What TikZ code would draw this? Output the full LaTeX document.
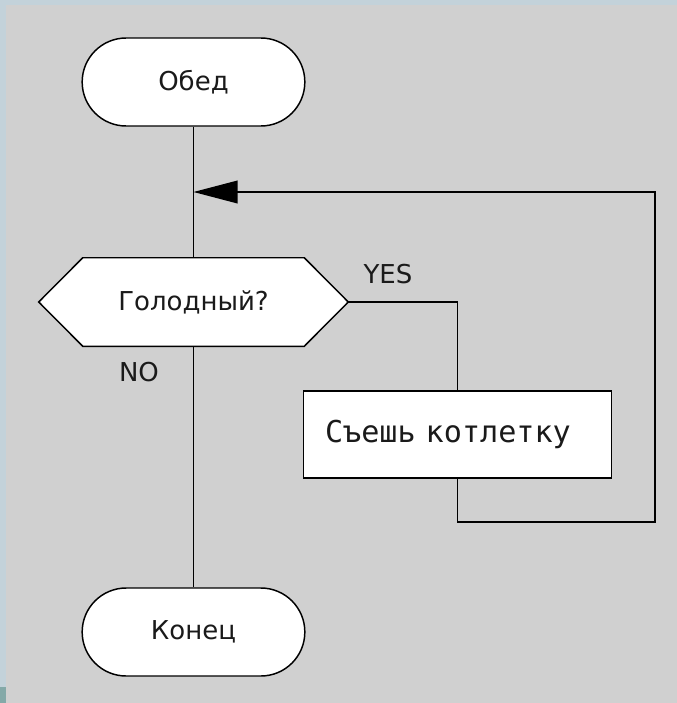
\documentclass[tikz,border=0pt]{standalone}
\usepackage{fontspec}
\setmainfont{DejaVu Sans}
\setmonofont{DejaVu Sans Mono}
\usetikzlibrary{arrows.meta}

\definecolor{pagegray}{HTML}{D0D0D0}
\definecolor{edgeblue}{HTML}{C3D2DA}
\definecolor{edgeteal}{HTML}{84A9A8}
\definecolor{inkgray}{HTML}{1A1A1A}

\begin{document}
\begin{tikzpicture}[x=0.75pt,y=0.75pt,yscale=-1,xscale=1,
  every node/.style={text=inkgray,font=\fontsize{19.5}{23}\selectfont},
  term/.style={draw,fill=white,line width=1.1pt,rounded corners=33pt,minimum width=167pt,minimum height=66pt,inner sep=0pt},
  hexcore/.style={minimum width=165.75pt,minimum height=66pt,inner sep=0pt},
  act/.style={draw,fill=white,line width=1.1pt,rectangle,text width=198.75pt,align=left,inner xsep=16pt,minimum height=65pt,font=\ttfamily\fontsize{22.6}{26}\selectfont},
  flow/.style={line width=1.05pt},
  tag/.style={inner sep=0.75pt}]
\useasboundingbox (0,0) rectangle (677,703);

%Background
\fill[pagegray] (0,0) rectangle (677,703);
\fill[edgeblue] (0,0) rectangle (677,5);
\fill[edgeblue] (0,0) rectangle (6,687);
\fill[edgeteal] (0,687) rectangle (6,703);

%Shapes
\node[term] (start) at (193.5,82) {Обед};
\node[hexcore] (ask) at (193.5,302) {};
\filldraw[fill=white,line width=1.1pt] (ask.north west) -- (ask.north east) -- ([xshift=33pt]ask.east) -- (ask.south east) -- (ask.south west) -- ([xshift=-33pt]ask.west) -- cycle;
\node (asktxt) at (ask.center) {Голодный?};
\node[act] (eat) at (457.5,434.5) {Съешь котлетку};
\node[term] (stop) at (193.5,632) {Конец};

\coordinate (askr) at ([xshift=33pt]ask.east);
\coordinate (join) at (193.5,192);
\coordinate (ret) at (655,522);

%Straight Lines
\draw[flow] (start.south) -- (ask.north);
\draw[flow] (ask.south) -- (stop.north);
\draw[flow] (askr) -| (eat.north);
\draw[flow,-{Triangle[length=33pt,width=17pt]}] (eat.south) |- (ret) |- (join);

% Text Node
\node[tag] (yes) at (388,274) {YES};
% Text Node
\node[tag] (no) at (139,372) {NO};

\end{tikzpicture}
\end{document}
